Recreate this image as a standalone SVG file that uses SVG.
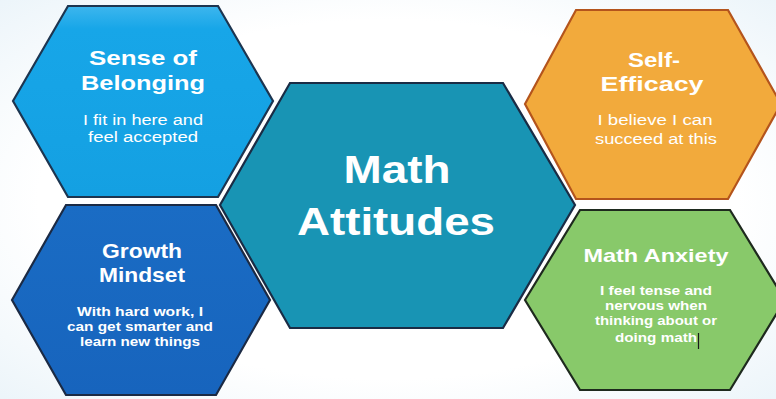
<svg xmlns="http://www.w3.org/2000/svg" width="776" height="399" viewBox="0 0 776 399">
<style>
.hex{stroke-width:2.2;stroke-linejoin:miter}
.t{font-family:"Liberation Sans",Arial,sans-serif;font-weight:bold;fill:#ffffff;text-anchor:middle}
.s{font-family:"Liberation Sans",Arial,sans-serif;fill:#ffffff;text-anchor:middle}
</style>
<defs>
<linearGradient id="gBlue" x1="0" y1="0" x2="0" y2="1">
<stop offset="0" stop-color="#3db6ee"/><stop offset="0.12" stop-color="#17a6e8"/><stop offset="1" stop-color="#14a0e2"/>
</linearGradient>
<linearGradient id="gDark" x1="0" y1="0" x2="0" y2="1">
<stop offset="0" stop-color="#1a6cc4"/><stop offset="1" stop-color="#1764bd"/>
</linearGradient>
<radialGradient id="bg" cx="0.5" cy="0.5" r="0.75">
<stop offset="0.6" stop-color="#ffffff"/><stop offset="1" stop-color="#e9f3f9"/>
</radialGradient>
</defs>
<rect width="776" height="399" fill="url(#bg)"/>
<g id="connectors"/>
<g id="node-belonging">
<polygon class="hex" points="13,101 68,6 218,6 273,101 218,197 68,197" fill="url(#gBlue)" stroke="#1d3550"/>
<text class="t" x="143" y="65" font-size="21" textLength="108" lengthAdjust="spacingAndGlyphs">Sense of</text>
<text class="t" x="143" y="90" font-size="21" textLength="124" lengthAdjust="spacingAndGlyphs">Belonging</text>
<text class="s" x="143" y="125" font-size="14" textLength="120" lengthAdjust="spacingAndGlyphs">I fit in here and</text>
<text class="s" x="143" y="142" font-size="14" textLength="110" lengthAdjust="spacingAndGlyphs">feel accepted</text>
</g>
<g id="node-growth">
<polygon class="hex" points="12,300 66,205 216,205 270,300 216,395 66,395" fill="url(#gDark)" stroke="#1b2a44"/>
<text class="t" x="142" y="258" font-size="21" textLength="80" lengthAdjust="spacingAndGlyphs">Growth</text>
<text class="t" x="142" y="282" font-size="21" textLength="86" lengthAdjust="spacingAndGlyphs">Mindset</text>
<text class="t" x="140" y="316" font-size="13" textLength="126" lengthAdjust="spacingAndGlyphs">With hard work, I</text>
<text class="t" x="140" y="331" font-size="13" textLength="146" lengthAdjust="spacingAndGlyphs">can get smarter and</text>
<text class="t" x="140" y="346" font-size="13" textLength="120" lengthAdjust="spacingAndGlyphs">learn new things</text>
</g>
<g id="node-center">
<polygon class="hex" points="220,205 290,83 503,83 575,205 503,328 290,328" fill="#1894b4" stroke="#1a2c45"/>
<text class="t" x="397" y="183" font-size="39" textLength="107" lengthAdjust="spacingAndGlyphs">Math</text>
<text class="t" x="396" y="235" font-size="39" textLength="198" lengthAdjust="spacingAndGlyphs">Attitudes</text>
</g>
<g id="node-efficacy">
<polygon class="hex" points="525,104 576,10 728,10 781,104 728,199 576,199" fill="#f2aa3c" stroke="#b4541c"/>
<text class="t" x="654" y="67" font-size="21" textLength="52" lengthAdjust="spacingAndGlyphs">Self-</text>
<text class="t" x="652" y="91" font-size="21" textLength="103" lengthAdjust="spacingAndGlyphs">Efficacy</text>
<text class="s" x="655" y="125" font-size="14" textLength="115" lengthAdjust="spacingAndGlyphs">I believe I can</text>
<text class="s" x="656" y="144" font-size="14" textLength="122" lengthAdjust="spacingAndGlyphs">succeed at this</text>
</g>
<g id="node-anxiety">
<polygon class="hex" points="525,300 580,210 730,210 785,300 730,390 580,390" fill="#88c96a" stroke="#1e2a1e"/>
<text class="t" x="656" y="262" font-size="19" textLength="145" lengthAdjust="spacingAndGlyphs">Math Anxiety</text>
<text class="t" x="656" y="295" font-size="13" textLength="112" lengthAdjust="spacingAndGlyphs">I feel tense and</text>
<text class="t" x="656" y="310" font-size="13" textLength="102" lengthAdjust="spacingAndGlyphs">nervous when</text>
<text class="t" x="656" y="325" font-size="13" textLength="122" lengthAdjust="spacingAndGlyphs">thinking about or</text>
<text class="t" x="656" y="342" font-size="13" textLength="82" lengthAdjust="spacingAndGlyphs">doing math</text>
<line x1="698.5" y1="333" x2="698.5" y2="349" stroke="#1a1a1a" stroke-width="1.2"/>
</g>
</svg>
